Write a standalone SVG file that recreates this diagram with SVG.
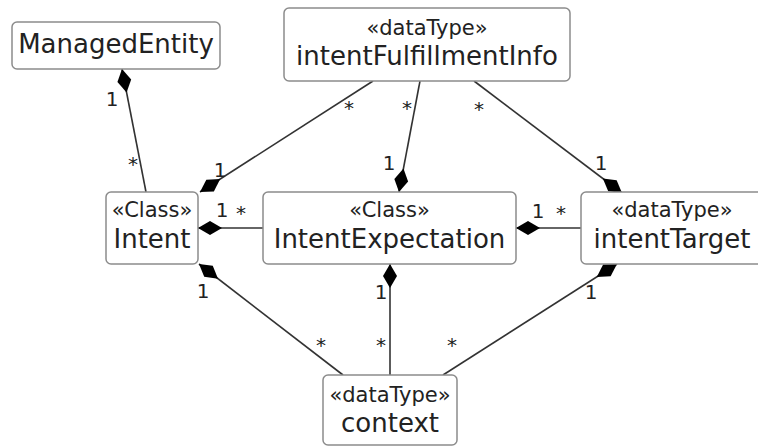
<svg xmlns="http://www.w3.org/2000/svg" width="758" height="446" viewBox="0 0 758 446">
<style>
.box{fill:#ffffff;stroke:#8c8c8c;stroke-width:1.5}
.st{font-family:"DejaVu Sans",sans-serif;font-size:21px;fill:#222;text-anchor:middle}
.nm{font-family:"DejaVu Sans",sans-serif;font-size:26px;fill:#222;text-anchor:middle}
.lb{font-family:"DejaVu Sans",sans-serif;font-size:20px;fill:#222;text-anchor:middle}
.ln{stroke:#333;stroke-width:1.6;fill:none;marker-start:url(#dia)}
</style>
<defs>
<marker id="dia" markerUnits="userSpaceOnUse" markerWidth="26" markerHeight="16" viewBox="-1 -8 26 16" refX="0" refY="0" orient="auto">
<path d="M0,0 L12,-7 L24,0 L12,7 Z" fill="#000"/>
</marker>
</defs>
<g id="connectors">
<path class="ln" d="M122,69 L146,192"/>
<path class="ln" d="M200,192 L373,81"/>
<path class="ln" d="M399,192 L420,81"/>
<path class="ln" d="M622,193 L474,81"/>
<path class="ln" d="M198,228 L263,228"/>
<path class="ln" d="M516,228 L581,228"/>
<path class="ln" d="M199,264 L343,375"/>
<path class="ln" d="M390,264 L390,375"/>
<path class="ln" d="M617,264 L443,375"/>
<text class="lb" x="112" y="106">1</text>
<text class="lb" x="133" y="171">*</text>
<text class="lb" x="220" y="177">1</text>
<text class="lb" x="349" y="115">*</text>
<text class="lb" x="389" y="170">1</text>
<text class="lb" x="407" y="115">*</text>
<text class="lb" x="601" y="170">1</text>
<text class="lb" x="479" y="116">*</text>
<text class="lb" x="222" y="217">1</text>
<text class="lb" x="241" y="220">*</text>
<text class="lb" x="538" y="218">1</text>
<text class="lb" x="561" y="220">*</text>
<text class="lb" x="203" y="298">1</text>
<text class="lb" x="321" y="352">*</text>
<text class="lb" x="381" y="299">1</text>
<text class="lb" x="381" y="352">*</text>
<text class="lb" x="591" y="299">1</text>
<text class="lb" x="452" y="352">*</text>
</g>
<g id="ManagedEntity">
<rect class="box" x="12" y="22" width="208" height="47" rx="5"/>
<text class="nm" x="116" y="53">ManagedEntity</text>
</g>
<g id="intentFulfillmentInfo">
<rect class="box" x="284" y="8" width="286" height="73" rx="5"/>
<text class="st" x="427" y="35">«dataType»</text>
<text class="nm" x="427" y="65">intentFulfillmentInfo</text>
</g>
<g id="Intent">
<rect class="box" x="106" y="192" width="92" height="72" rx="5"/>
<text class="st" x="152" y="217">«Class»</text>
<text class="nm" x="152" y="248">Intent</text>
</g>
<g id="IntentExpectation">
<rect class="box" x="263" y="192" width="253" height="72" rx="5"/>
<text class="st" x="389.5" y="217">«Class»</text>
<text class="nm" x="389.5" y="248">IntentExpectation</text>
</g>
<g id="intentTarget">
<rect class="box" x="581" y="192" width="182" height="72" rx="5"/>
<text class="st" x="672" y="217">«dataType»</text>
<text class="nm" x="672" y="248">intentTarget</text>
</g>
<g id="context">
<rect class="box" x="323" y="375" width="134" height="70" rx="5"/>
<text class="st" x="390" y="402">«dataType»</text>
<text class="nm" x="390" y="432">context</text>
</g>
</svg>
